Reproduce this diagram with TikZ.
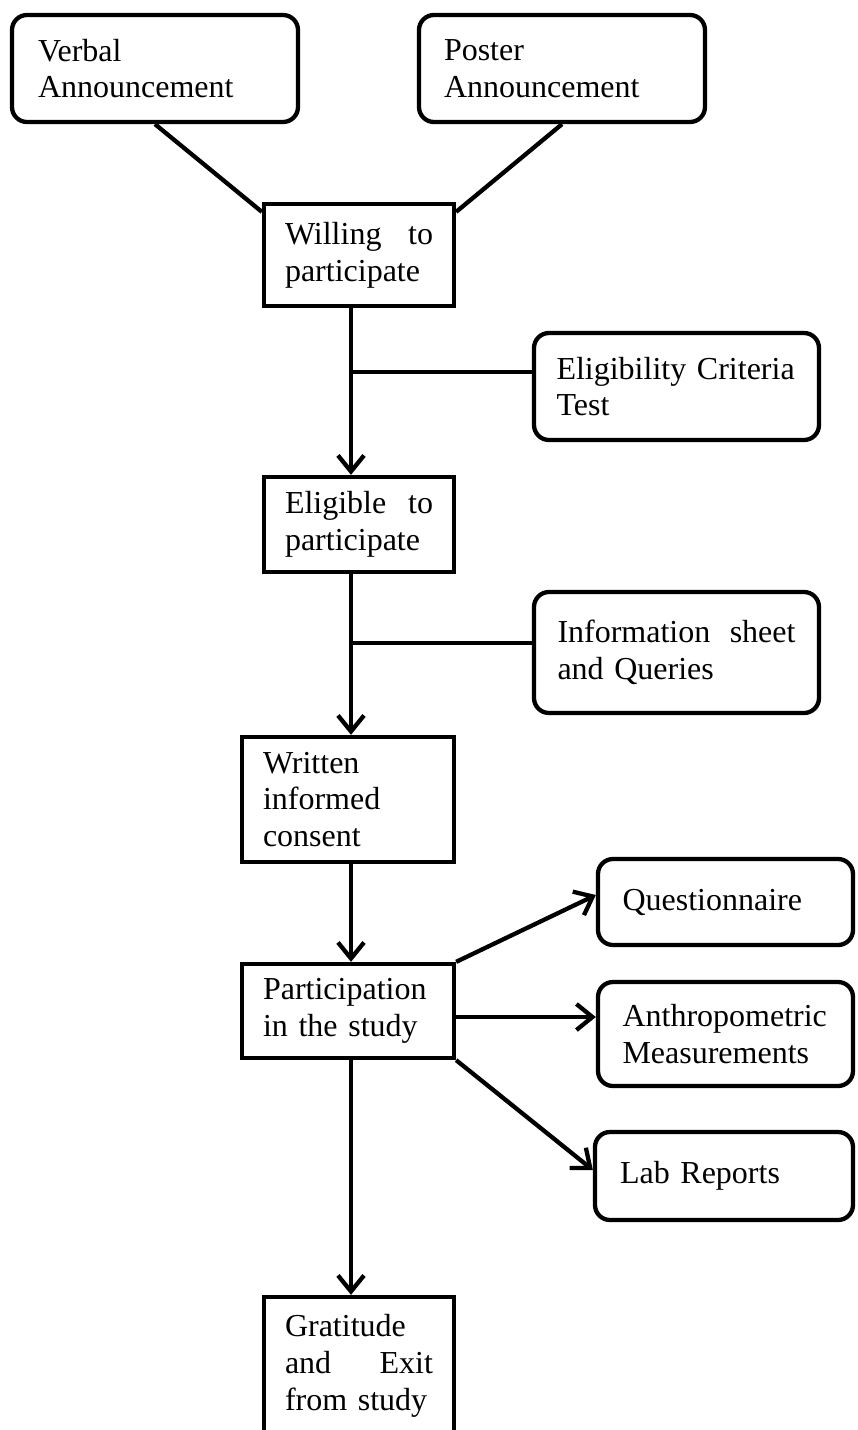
\documentclass[tikz,border=0pt]{standalone}
\usepackage{fontspec}
\setmainfont{Liberation Serif}
\usetikzlibrary{arrows.meta}
\hyphenpenalty=10000
\exhyphenpenalty=10000
\begin{document}
\begin{tikzpicture}[x=1pt,y=-1pt,
  every node/.style={font=\fontsize{32}{36.8}\selectfont, inner sep=0pt, align=left},
  sqbox/.style={draw, line width=4.3pt, rectangle},
  rbox/.style={draw, line width=4.3pt, rectangle, rounded corners=15pt},
  conn/.style={line width=4.3pt},
  arr/.style={line width=4.3pt, -{Straight Barb[length=16pt,width=26pt]}}]
\useasboundingbox (0,0) rectangle (857,1430);
\clip (0,0) rectangle (857,1430);

\node[rbox, text width=234pt, minimum width=286pt, minimum height=107pt] (verbal) at (155,68.5) {Verbal\\Announcement};
\node[rbox, text width=236pt, minimum width=286pt, minimum height=107pt] (poster) at (562,68.5) {Poster\\Announcement};
\node[sqbox, text width=148pt, minimum width=190pt, minimum height=102pt] (willing) at (359,255) {Willing\hfill to\\participate};
\node[rbox, text width=240pt, minimum width=285pt, minimum height=107pt] (elig) at (676.5,386.5) {Eligibility Criteria\\Test};
\node[sqbox, text width=148pt, minimum width=190pt, minimum height=95pt] (eligible) at (359,524.5) {Eligible\hfill to\\participate};
\node[rbox, text width=238pt, minimum width=285pt, minimum height=121pt] (info) at (676.5,652.5) {Information\hfill sheet\\and Queries};
\node[sqbox, text width=170pt, minimum width=212pt, minimum height=125pt] (written) at (348,799.5) {Written\\informed\\consent};
\node[sqbox, text width=170pt, minimum width=212pt, minimum height=94pt] (particip) at (348,1011) {Participation\\in the study};
\node[rbox, text width=206pt, minimum width=255pt, minimum height=86pt] (quest) at (725.5,902) {Questionnaire};
\node[rbox, text width=206pt, minimum width=255pt, minimum height=104pt] (anthro) at (725.5,1034) {Anthropometric\\Measurements};
\node[rbox, text width=208pt, minimum width=258pt, minimum height=88pt] (lab) at (724,1176) {Lab Reports};
\node[sqbox, text width=148pt, minimum width=190pt, minimum height=138pt] (grat) at (359,1366) {Gratitude\\and\hfill Exit\\from study};

\coordinate (sx) at (351,0);

\draw[conn] (verbal.south) -- ([yshift=-10pt]willing.north west);
\draw[conn] (poster.south) -- ([yshift=-10pt]willing.north east);

\draw[arr] (willing.south -| sx) -- (eligible.north -| sx);
\coordinate (b1) at ([yshift=14.5pt]elig.west);
\draw[conn] (b1) -- (b1 -| sx);

\draw[arr] (eligible.south -| sx) -- (written.north -| sx);
\coordinate (b2) at ([yshift=9.5pt]info.west);
\draw[conn] (b2) -- (b2 -| sx);

\draw[arr] (written.south -| sx) -- (particip.north -| sx);

\draw[arr] (particip.north east) -- ([yshift=7pt]quest.west);
\coordinate (b3) at ([yshift=17pt]anthro.west);
\draw[arr] (b3 -| particip.east) -- (b3);
\draw[arr] (particip.south east) -- ([yshift=6pt]lab.west);

\draw[arr] (particip.south -| sx) -- (grat.north -| sx);
\end{tikzpicture}
\end{document}
